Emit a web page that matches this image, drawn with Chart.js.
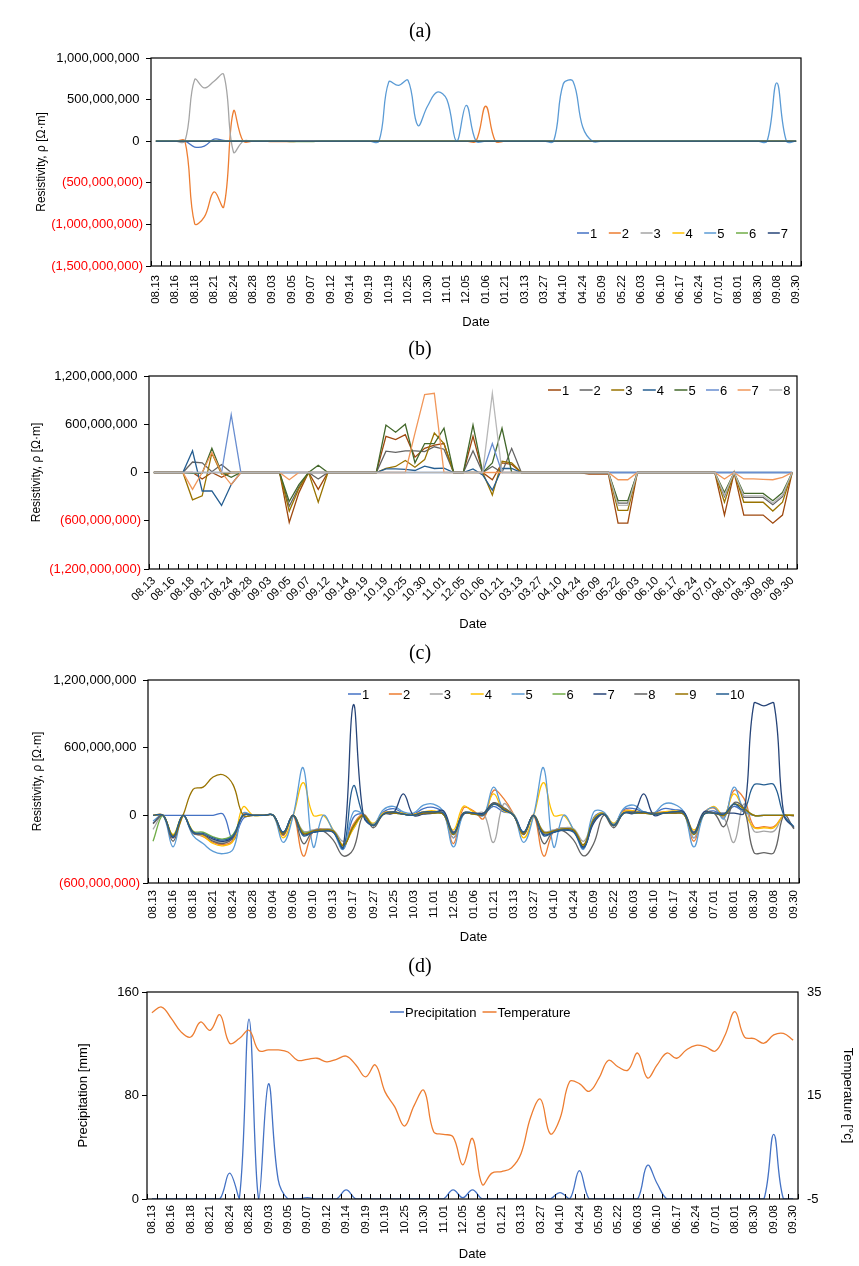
<!DOCTYPE html>
<html lang="en">
<head>
<meta charset="UTF-8">
<title>Resistivity, precipitation and temperature</title>
<script src="https://cdn.jsdelivr.net/npm/chart.js"></script>
<style>
  body { margin: 0; background: #fff; }
  .panel { position: absolute; left: 0; width: 859px; }
  .cap { position: absolute; left: 0; width: 840px; text-align: center; font: 20px/24px "Liberation Serif", "DejaVu Serif", serif; color: #000; }
</style>
</head>
<body>
<div class="panel" style="top:0;height:330px"><canvas id="chartA"></canvas></div>
<div class="panel" style="top:330px;height:310px"><canvas id="chartB"></canvas></div>
<div class="panel" style="top:640px;height:310px"><canvas id="chartC"></canvas></div>
<div class="panel" style="top:950px;height:316px"><canvas id="chartD"></canvas></div>
<div class="cap" style="top:18px">(a)</div>
<div class="cap" style="top:336px">(b)</div>
<div class="cap" style="top:640px">(c)</div>
<div class="cap" style="top:953px">(d)</div>

<script>
  // ---- dates shown on the axes (every second measurement is labelled) ----
  const dates34 = ['08.13', '08.16', '08.18', '08.21', '08.24', '08.28', '09.03', '09.05', '09.07', '09.12', '09.14', '09.19',
    '10.19', '10.25', '10.30', '11.01', '12.05', '01.06', '01.21', '03.13', '03.27', '04.10', '04.24', '05.09', '05.22',
    '06.03', '06.10', '06.17', '06.24', '07.01', '08.01', '08.30', '09.08', '09.30'];
  const dates33 = ['08.13', '08.16', '08.18', '08.21', '08.24', '08.28', '09.04', '09.06', '09.10', '09.13', '09.17', '09.27',
    '10.25', '10.03', '11.01', '12.05', '01.06', '01.21', '03.13', '03.27', '04.10', '04.24', '05.09', '05.22', '06.03',
    '06.10', '06.17', '06.24', '07.01', '08.01', '08.30', '09.08', '09.30'];

  // ---- y ticks ----
  const ticksA = [-1.5e9, -1e9, -5e8, 0, 5e8, 1e9];
  const ticksB = [-1.2e9, -6e8, 0, 6e8, 1.2e9];
  const ticksC = [-6e8, 0, 6e8, 1.2e9];
  const ticksPrec = [0, 80, 160];
  const ticksTemp = [-5, 15, 35];

  // ---- (a) resistivity, values in 10^6 ohm·m ----
  const a1 = [0, 0, 0, 0, -70, -60, 25, 10, 0, 0,
    0, 0, 0, 0, 0, 0, 0, 0, 0, 0,
    0, 0, 0, 0, 0, 0, 0, 0, 0, 0,
    0, 0, 0, 0, 0, 0, 0, 0, 0, 0,
    0, 0, 0, 0, 0, 0, 0, 0, 0, 0,
    0, 0, 0, 0, 0, 0, 0, 0, 0, 0,
    0, 0, 0, 0, 0, 0, 0];
  const a2 = [0, 0, 0, 0, -990, -910, -610, -790, 360, 0,
    0, 0, -5, -5, -5, 0, 0, 0, 0, 0,
    0, 0, 0, 0, 0, 0, 0, 0, 0, 0,
    0, 0, 0, 0, 420, 0, 0, 0, 0, 0,
    0, 0, 0, 0, 0, 0, 0, 0, 0, 0,
    0, 0, 0, 0, 0, 0, 0, 0, 0, 0,
    0, 0, 0, 0, 0, 0, 0];
  const a3 = [0, 0, 0, 0, 740, 640, 720, 800, -130, 0,
    0, 0, 0, 0, 0, 0, 0, 0, 0, 0,
    0, 0, 0, 0, 0, 0, 0, 0, 0, 0,
    0, 0, 0, 0, 0, 0, 0, 0, 0, 0,
    0, 0, 0, 0, 0, 0, 0, 0, 0, 0,
    0, 0, 0, 0, 0, 0, 0, 0, 0, 0,
    0, 0, 0, 0, 0, 0, 0];
  const a4 = [0, 0, 0, 0, 0, 0, 0, 0, 0, 0,
    0, 0, 0, 0, 0, 0, 0, 0, 0, 0,
    0, 0, 0, 0, 0, 0, 0, 0, 0, 0,
    0, 0, 0, 0, 0, 0, 0, 0, 0, 0,
    0, 0, 0, 0, 0, 0, 0, 0, 0, 0,
    0, 0, 0, 0, 0, 0, 0, 0, 0, 0,
    0, 0, 0, 0, 0, 0, 0];
  const a5 = [0, 0, 0, 0, 0, 0, 0, 0, 0, 0,
    0, 0, 0, 0, 0, 0, 0, 0, 0, 0,
    0, 0, 0, 0, 710, 670, 730, 190, 420, 590,
    500, 0, 430, 0, 0, 0, 0, 0, 0, 0,
    0, 0, 690, 720, 170, 0, 0, 0, 0, 0,
    0, 0, 0, 0, 0, 0, 0, 0, 0, 0,
    0, 0, 0, 0, 700, 0, 0];
  const a6 = [0, 0, 0, 0, 0, 0, 0, 0, 0, 0,
    0, 0, 0, 0, -5, -5, -5, 0, 0, 0,
    0, 0, 0, 0, 0, 0, 0, 0, 0, 0,
    0, 0, 0, 0, 0, 0, 0, 0, 0, 0,
    0, 0, 0, 0, 0, 0, 0, 0, 0, 0,
    0, 0, 0, 0, 0, 0, 0, 0, 0, 0,
    0, 0, 0, 0, 0, 0, 0];
  const a7 = [0, 0, 0, 0, 0, 0, 0, 0, 0, 0,
    0, 0, 0, 0, 0, 0, 0, 0, 0, 0,
    0, 0, 0, 0, 0, 0, 0, 0, 0, 0,
    0, 0, 0, 0, 0, 0, 0, 0, 0, 0,
    0, 0, 0, 0, 0, 0, 0, 0, 0, 0,
    0, 0, 0, 0, 0, 0, 0, 0, 0, 0,
    0, 0, 0, 0, 0, 0, 0];

  // ---- (b) resistivity, 10^6 ohm·m ----
  const b1 = [0, 0, 0, 0, 0, -80, 0, -60, 0, 0,
    0, 0, 0, 0, -620, -250, 0, -210, 0, 0,
    0, 0, 0, 0, 450, 410, 470, 190, 300, 340,
    360, 0, 0, 450, 0, -90, 120, 100, 0, 0,
    0, 0, 0, 0, 0, -20, -20, -20, -630, -630,
    0, 0, 0, 0, 0, 0, 0, 0, 0, -530,
    0, -530, -530, -530, -630, -530, 0];
  const b2 = [0, 0, 0, 0, 130, 120, 10, 100, 0, 0,
    0, 0, 0, 0, -420, -180, 0, -80, 0, 0,
    0, 0, 0, 0, 265, 250, 270, 270, 260, 320,
    290, 0, 0, 270, 0, 75, 0, 300, 0, 0,
    0, 0, 0, 0, 0, 0, 0, 0, -380, -380,
    0, 0, 0, 0, 0, 0, 0, 0, 0, -300,
    0, -310, -310, -310, -400, -300, 0];
  const b3 = [0, 0, 0, 0, -340, -290, 240, -20, 0, 0,
    0, 0, 0, 0, -480, -200, 0, -370, 0, 0,
    0, 0, 0, 0, 50, 75, 150, 65, 160, 490,
    360, 0, 0, 0, 0, -280, 140, 120, 0, 0,
    0, 0, 0, 0, 0, 0, 0, 0, -470, -470,
    0, 0, 0, 0, 0, 0, 0, 0, 0, -370,
    0, -370, -370, -370, -480, -370, 0];
  const b4 = [0, 0, 0, 0, 270, -230, -230, -410, -150, 0,
    0, 0, 0, 0, 0, 0, 0, 0, 0, 0,
    0, 0, 0, 0, 45, 45, 40, 25, 80, 50,
    55, 0, 0, 45, -30, -220, 50, 50, 0, 0,
    0, 0, 0, 0, 0, 0, 0, 0, 0, 0,
    0, 0, 0, 0, 0, 0, 0, 0, 0, 0,
    0, 0, 0, 0, 0, 0, 0];
  const b5 = [0, 0, 0, 0, -10, -10, 300, 0, -60, 0,
    0, 0, 0, 0, -360, -150, 0, 90, 0, 0,
    0, 0, 0, 0, 590, 500, 600, 120, 360, 360,
    550, 0, 0, 590, 0, 120, 550, 0, 0, 0,
    0, 0, 0, 0, 0, 0, 0, 0, -350, -350,
    0, 0, 0, 0, 0, 0, 0, 0, 0, -250,
    0, -260, -260, -260, -350, -250, 0];
  const b6 = [0, 0, 0, 0, 0, 0, 0, 0, 720, 0,
    0, 0, 0, 0, 0, 0, 0, 0, 0, 0,
    0, 0, 0, 0, 0, 0, 0, 0, 0, 0,
    0, 0, 0, 0, 0, 360, 0, 0, 0, 0,
    0, 0, 0, 0, 0, 0, 0, 0, 0, 0,
    0, 0, 0, 0, 0, 0, 0, 0, 0, 0,
    0, 0, 0, 0, 0, 0, 0];
  const b7 = [0, 0, 0, 0, -210, 0, 250, 0, -150, 0,
    0, 0, 0, 0, -90, 0, 0, 0, 0, 0,
    0, 0, 0, 0, 0, 0, 0, 490, 970, 985,
    0, 0, 0, 0, 0, 0, 0, 0, 0, 0,
    0, 0, 0, 0, 0, 0, 0, 0, -90, -90,
    0, 0, 0, 0, 0, 0, 0, 0, 0, -80,
    0, -80, -80, -85, -90, -60, 0];
  const b8 = [0, 0, 0, 0, 0, 0, 0, 0, 0, 0,
    0, 0, 0, 0, 0, 0, 0, 0, 0, 0,
    0, 0, 0, 0, 0, 0, 0, 0, 0, 0,
    0, 0, 0, 0, 0, 985, 0, 0, 0, 0,
    0, 0, 0, 0, 0, 0, 0, 0, -410, -410,
    0, 0, 0, 0, 0, 0, 0, 0, 0, -280,
    0, -290, -290, -290, -380, -280, 0];

  // ---- (c) resistivity, 10^6 ohm·m ----
  const c1 = [0, 0, 0, 0, 0, 0, 0, 10, -220, -30,
    0, 0, 0, -150, 0, -160, -150, -130, -140, -300,
    -20, 10, -80, 30, 60, 20, 10, 60, 70, 20,
    -200, 10, 20, 10, 80, 30, 10, -150, 0, -160,
    -150, -120, -130, -290, -20, 20, -80, 50, 60, 30,
    20, 60, 50, 30, -200, 10, 40, 0, 80, 30,
    0, 0, 0, 0, 0];
  const c2 = [0, 0, -200, 0, -150, -190, -240, -260, -220, 10,
    0, 0, 0, -180, 0, -360, -140, -120, -150, -260,
    -80, 10, -90, 20, 30, 10, 10, 30, 30, 20,
    -250, 65, 40, -30, 220, 150, 10, -170, 0, -360,
    -140, -110, -130, -270, -60, 20, -90, 40, 40, 20,
    20, 30, 30, 20, -230, 20, 65, -20, 220, 150,
    -100, -100, -100, 0, 0];
  const c3 = [-125, 0, -190, 0, -160, -180, -220, -240, -200, 0,
    0, 0, 0, -160, 0, -140, -130, -120, -130, -230,
    -120, 0, -90, 20, 20, 10, 0, 20, 20, 10,
    -200, 20, 10, 20, -240, 100, 0, -160, 0, -140,
    -130, -110, -120, -230, -40, 10, -90, 30, 30, 20,
    10, 20, 20, 10, -200, 10, 20, -20, -240, 100,
    -140, -140, -140, 0, -10];
  const c4 = [0, 0, -170, 0, -140, -180, -250, -270, -230, 75,
    0, 0, 0, -200, 0, 290, 0, 0, -130, -260,
    -120, 0, -70, 20, 30, 20, 10, 30, 40, 10,
    -130, 80, 30, 10, 190, 40, 10, -200, 0, 290,
    0, 0, -130, -270, -30, 20, -70, 30, 40, 20,
    20, 30, 40, 20, -130, 10, 80, 0, 190, 40,
    -110, -110, -110, 0, 0];
  const c5 = [-50, 0, -280, 0, -180, -250, -320, -340, -300, 20,
    0, 0, 0, -240, 0, 420, -280, 0, -140, -300,
    30, 10, -80, 50, 80, 30, 20, 90, 100, 30,
    -280, 10, 20, 0, 250, 50, 10, -240, 0, 420,
    -280, 0, -130, -300, 30, 30, -80, 60, 90, 30,
    20, 100, 100, 30, -280, 10, 70, -30, 250, 50,
    0, 0, 0, 0, 0];
  const c6 = [-230, 0, -180, 0, -140, -150, -190, -210, -170, 0,
    0, 0, 0, -160, 0, -150, -140, -130, -140, -270,
    -100, 0, -90, 10, 20, 10, 0, 20, 20, 10,
    -170, 20, 10, 10, 100, 60, 0, -160, 0, -150,
    -140, -120, -130, -260, -40, 10, -90, 20, 20, 20,
    10, 20, 20, 10, -170, 10, 20, 0, 100, 60,
    0, 0, 0, 0, 0];
  const c7 = [-70, 0, -200, 0, -150, -170, -210, -230, -190, 0,
    0, 0, 0, -150, 0, -170, -150, -140, -150, -280,
    980, 0, -90, 10, 20, 190, 0, 10, 20, 40,
    -150, 10, 20, 20, 110, 50, 0, -150, 0, -170,
    -150, -130, -140, -280, -70, 10, -90, 20, 20, 190,
    0, 20, 30, 30, -150, 30, 20, 20, 20, 20,
    990, 970, 990, 0, -110];
  const c8 = [-75, 0, -230, 0, -160, -170, -230, -250, -200, 0,
    0, 0, 0, -170, 0, -250, -140, -140, -220, -360,
    -300, 0, -110, 10, 30, 10, 0, 20, 30, 10,
    -150, 20, 20, 0, 110, 70, 0, -170, 0, -250,
    -140, -140, -220, -360, -250, 0, -110, 20, 30, 20,
    20, 20, 20, 10, -150, 10, 20, -100, 110, 60,
    -330, -330, -330, 0, -120];
  const c9 = [0, 0, -180, 0, 230, 250, 340, 360, 270, 0,
    0, 0, 0, -160, 0, -160, -140, -130, -140, -270,
    -100, 0, -90, 10, 20, 10, 0, 20, 20, 10,
    -170, 20, 10, 10, 100, 60, 0, -160, 0, -150,
    -140, -120, -130, -260, -40, 10, -90, 20, 20, 20,
    10, 20, 20, 10, -170, 10, 20, 0, 100, 60,
    0, 0, 0, 0, 0];
  const c10 = [0, 0, -190, 0, -150, -160, -200, -220, -180, 0,
    0, 0, 0, -150, 0, -180, -150, -140, -150, -290,
    260, 0, -90, 10, 30, 10, 0, 30, 30, 20,
    -160, 20, 20, 10, 100, 50, 0, -150, 0, -180,
    -150, -130, -150, -290, -50, 10, -90, 20, 20, 30,
    10, 20, 30, 20, -160, 10, 20, 10, 100, 50,
    270, 270, 270, 0, -100];

  // ---- (d) weather ----
  const precipitation = [0, 0, 0, 0, 0, 0, 0, 0, 20, 0,
    139, 0, 89, 15, 0, 0, 1, 0, 0, 0,
    7, 0, 0, 0, 0, 0, 0, 0, 0, 0,
    0, 7, 1, 7, 0, 0, 0, 0, 0, 0,
    0, 0, 5, 0, 22, 0, 0, 0, 0, 0,
    0, 26, 12, 0, 0, 0, 0, 0, 0, 0,
    0, 0, 0, 0, 50, 0, 0];
  const temperature = [31.0, 32.1, 29.9, 27.3, 26.3, 29.2, 27.6, 30.6, 25.1, 26.0,
    27.6, 23.7, 23.8, 23.8, 23.4, 21.8, 22.0, 22.2, 21.5, 22.0,
    22.6, 20.9, 18.6, 20.9, 15.7, 12.8, 9.1, 13.1, 16.0, 8.0,
    7.5, 7.0, 1.6, 6.7, -2.2, 0.0, 0.3, 1.0, 3.8, 10.9,
    14.3, 7.6, 10.5, 17.7, 17.3, 15.8, 18.3, 21.8, 20.5, 19.9,
    23.2, 18.4, 20.9, 23.2, 22.2, 23.8, 24.7, 24.4, 23.6, 26.7,
    31.2, 26.3, 26.0, 25.1, 26.7, 27.0, 25.7];

  const M = 1e6;
  const family = '"Liberation Sans", Arial, sans-serif';
  Chart.defaults.font.family = family;
  Chart.defaults.font.size = 13;
  Chart.defaults.color = '#000';

  function withGaps(labels) {
    const out = [];
    labels.forEach((l, i) => { if (i) out.push(''); out.push(l); });
    return out;
  }

  // Excel style "#,##0_);[Red](#,##0)"
  function excelNum(v) {
    const s = Math.abs(v).toLocaleString('en-US');
    return v < 0 ? '(' + s + ')' : s + ' ';
  }

  // plot area border
  const frame = {
    id: 'frame',
    afterDraw(chart) {
      const { ctx, chartArea: a } = chart;
      ctx.save();
      ctx.strokeStyle = '#000';
      ctx.lineWidth = 1.2;
      ctx.strokeRect(a.left, a.top, a.right - a.left, a.bottom - a.top);
      ctx.restore();
    }
  };

  // small category ticks pointing up into the plot
  const innerTicks = {
    id: 'innerTicks',
    afterDraw(chart) {
      const { ctx, chartArea: a, scales: { x } } = chart;
      ctx.save();
      ctx.strokeStyle = '#000';
      ctx.lineWidth = 1;
      for (let i = 0; i <= x.ticks.length; i++) {
        const px = Math.round(x.getPixelForValue(i - 0.5)) + 0.5;
        ctx.beginPath();
        ctx.moveTo(px, a.bottom);
        ctx.lineTo(px, a.bottom - 5);
        ctx.stroke();
      }
      ctx.restore();
    }
  };

  // legend drawn inside the plot area
  const insideLegend = {
    id: 'insideLegend',
    afterDraw(chart, args, opts) {
      const ctx = chart.ctx;
      ctx.save();
      ctx.font = '13px ' + family;
      ctx.textBaseline = 'middle';
      let x = opts.x;
      chart.data.datasets.forEach(ds => {
        ctx.strokeStyle = ds.borderColor;
        ctx.lineWidth = 1.5;
        ctx.beginPath();
        ctx.moveTo(x, opts.y);
        ctx.lineTo(x + opts.line, opts.y);
        ctx.stroke();
        ctx.fillStyle = '#000';
        ctx.fillText(ds.label, x + opts.line + 1, opts.y + 1);
        x += opts.step || (opts.line + 1 + ctx.measureText(ds.label).width + opts.gap);
      });
      ctx.restore();
    }
  };

  function lines(list, scale) {
    return list.map(([label, values, color], i) => ({
      label,
      data: values.map(v => v * scale),
      borderColor: color,
      backgroundColor: color,
      borderWidth: 1.3,
      pointRadius: 0,
      order: list.length - i
    }));
  }

  function resistivityAxis(ticks, width) {
    return {
      min: ticks[0],
      max: ticks[ticks.length - 1],
      afterBuildTicks: s => { s.ticks = ticks.map(v => ({ value: v })); },
      afterFit: s => { s.width = width; },
      grid: { drawOnChartArea: false, color: '#000', tickLength: 5 },
      border: { display: false },
      ticks: {
        padding: 3,
        color: c => (c.tick && c.tick.value < 0 ? '#ff0000' : '#000'),
        callback: v => excelNum(v)
      },
      title: { display: true, text: 'Resistivity, ρ [Ω·m]', font: { size: 12 }, color: '#000' }
    };
  }

  function dateAxis(height, rotation, pad, titleBottom) {
    return {
      offset: true,
      afterFit: s => { s.height = height; },
      grid: { display: false, drawTicks: false },
      border: { display: false },
      ticks: { autoSkip: false, maxRotation: rotation, minRotation: rotation, padding: pad, font: { size: 11.5 }, color: '#000' },
      title: { display: true, text: 'Date', font: { size: 13 }, color: '#000', padding: { top: 0, bottom: titleBottom } }
    };
  }

  const common = {
    responsive: true,
    maintainAspectRatio: false,
    animation: false,
    events: []
  };

  // (a)
  new Chart(document.getElementById('chartA'), {
    type: 'line',
    data: {
      labels: withGaps(dates34),
      datasets: lines([
        ['1', a1, '#4472C4'], ['2', a2, '#ED7D31'], ['3', a3, '#A5A5A5'], ['4', a4, '#FFC000'],
        ['5', a5, '#5B9BD5'], ['6', a6, '#70AD47'], ['7', a7, '#264478']
      ], M)
    },
    options: Object.assign({}, common, {
      layout: { padding: { left: 30, right: 58, top: 58, bottom: 0 } },
      elements: { line: { tension: 0.4 } },
      scales: { x: dateAxis(64, 90, 9, 0), y: resistivityAxis(ticksA, 121) },
      plugins: {
        legend: { display: false },
        tooltip: { enabled: false },
        insideLegend: { x: 577, y: 233, line: 12, step: 31.8 }
      }
    }),
    plugins: [frame, innerTicks, insideLegend]
  });

  // (b)
  new Chart(document.getElementById('chartB'), {
    type: 'line',
    data: {
      labels: withGaps(dates34),
      datasets: lines([
        ['1', b1, '#9E480E'], ['2', b2, '#636363'], ['3', b3, '#997300'], ['4', b4, '#255E91'],
        ['5', b5, '#43682B'], ['6', b6, '#698ED0'], ['7', b7, '#F1975A'], ['8', b8, '#B7B7B7']
      ], M)
    },
    options: Object.assign({}, common, {
      layout: { padding: { left: 25, right: 62, top: 46, bottom: 0 } },
      elements: { line: { tension: 0 } },
      scales: { x: dateAxis(71, 45, 5, 8), y: resistivityAxis(ticksB, 124) },
      plugins: {
        legend: { display: false },
        tooltip: { enabled: false },
        insideLegend: { x: 548, y: 60, line: 13, step: 31.6 }
      }
    }),
    plugins: [frame, innerTicks, insideLegend]
  });

  // (c)
  new Chart(document.getElementById('chartC'), {
    type: 'line',
    data: {
      labels: withGaps(dates33),
      datasets: lines([
        ['1', c1, '#4472C4'], ['2', c2, '#ED7D31'], ['3', c3, '#A5A5A5'], ['4', c4, '#FFC000'],
        ['5', c5, '#5B9BD5'], ['6', c6, '#70AD47'], ['7', c7, '#264478'], ['8', c8, '#636363'],
        ['9', c9, '#997300'], ['10', c10, '#255E91']
      ], M)
    },
    options: Object.assign({}, common, {
      layout: { padding: { left: 26, right: 60, top: 40, bottom: 0 } },
      elements: { line: { tension: 0.4 } },
      scales: { x: dateAxis(67, 90, 7, 5), y: resistivityAxis(ticksC, 122) },
      plugins: {
        legend: { display: false },
        tooltip: { enabled: false },
        insideLegend: { x: 348, y: 54, line: 13, step: 40.9 }
      }
    }),
    plugins: [frame, innerTicks, insideLegend]
  });

  // (d)
  const weather = lines([
    ['Precipitation', precipitation, '#4472C4'],
    ['Temperature', temperature, '#ED7D31']
  ], 1);
  weather[0].yAxisID = 'yP';
  weather[1].yAxisID = 'yT';

  new Chart(document.getElementById('chartD'), {
    type: 'line',
    data: { labels: withGaps(dates34), datasets: weather },
    options: Object.assign({}, common, {
      layout: { padding: { left: 72, right: 0, top: 42, bottom: 0 } },
      elements: { line: { tension: 0.4 } },
      scales: {
        x: dateAxis(67, 90, 6, 4),
        yP: {
          position: 'left',
          min: ticksPrec[0],
          max: ticksPrec[ticksPrec.length - 1],
          afterBuildTicks: s => { s.ticks = ticksPrec.map(v => ({ value: v })); },
          afterFit: s => { s.width = 75; },
          grid: { drawOnChartArea: false, color: '#000', tickLength: 5 },
          border: { display: false },
          ticks: { padding: 3, color: '#000' },
          title: { display: true, text: 'Precipitation [mm]', font: { size: 13 }, color: '#000' }
        },
        yT: {
          position: 'right',
          min: ticksTemp[0],
          max: ticksTemp[ticksTemp.length - 1],
          afterBuildTicks: s => { s.ticks = ticksTemp.map(v => ({ value: v })); },
          afterFit: s => { s.width = 61; },
          grid: { display: false, drawTicks: false },
          border: { display: false },
          ticks: { padding: 9, color: '#000' },
          title: { display: true, text: 'Temperature [°c]', font: { size: 13 }, color: '#000' }
        }
      },
      plugins: {
        legend: { display: false },
        tooltip: { enabled: false },
        insideLegend: { x: 390, y: 62, line: 14, gap: 6 }
      }
    }),
    plugins: [frame, innerTicks, insideLegend]
  });
</script>
</body>
</html>
